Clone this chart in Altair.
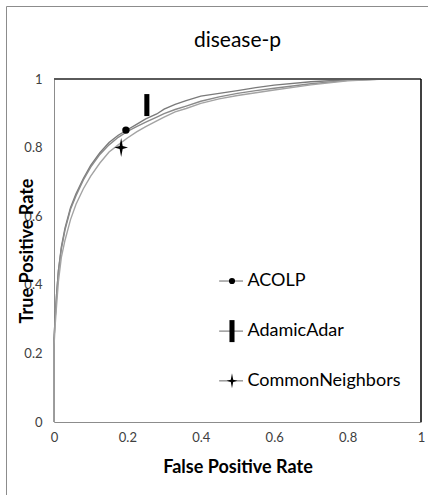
import altair as alt
import pandas as pd

# ---- data ----
methods = ["ACOLP", "AdamicAdar", "CommonNeighbors"]
line_colors = ["#7a7a7a", "#8a8a8a", "#a3a3a3"]

fpr = [0, 0, 0.003, 0.007, 0.012, 0.02, 0.03, 0.045, 0.06, 0.08, 0.1, 0.125, 0.15,
       0.175, 0.2, 0.225, 0.25, 0.28, 0.3, 0.33, 0.36, 0.4, 0.45, 0.5, 0.55, 0.6,
       0.7, 0.8, 0.9, 1.0]
tpr_acolp = [0, 0.24, 0.3, 0.37, 0.44, 0.51, 0.565, 0.625, 0.665, 0.71, 0.748, 0.785,
             0.815, 0.836, 0.852, 0.868, 0.884, 0.898, 0.912, 0.926, 0.937, 0.95, 0.958,
             0.966, 0.975, 0.982, 0.992, 0.998, 1.0, 1.0]
tpr_adamic = [0, 0.24, 0.3, 0.37, 0.44, 0.505, 0.56, 0.62, 0.66, 0.706, 0.743, 0.78,
              0.808, 0.83, 0.847, 0.861, 0.874, 0.889, 0.899, 0.911, 0.921, 0.935, 0.948,
              0.958, 0.966, 0.973, 0.986, 0.996, 1.0, 1.0]
tpr_common = [0, 0.22, 0.28, 0.34, 0.41, 0.48, 0.53, 0.59, 0.635, 0.68, 0.717, 0.755,
              0.787, 0.808, 0.828, 0.846, 0.861, 0.878, 0.889, 0.904, 0.914, 0.929, 0.942,
              0.952, 0.96, 0.968, 0.983, 0.995, 1.0, 1.0]

marker_x = [0.196, 0.253, 0.183]
marker_y = [0.851, 0.924, 0.80]

legend_y = [0.411, 0.265, 0.12]
legend_x0 = 0.45
legend_x1 = 0.515
legend_mx = 0.485
legend_tx = 0.527

axis_ticks = [0, 0.2, 0.4, 0.6, 0.8, 1]
chart_title = ["disease-p"]

# ---- tables ----
rows = []
for m, ys in zip(methods, [tpr_acolp, tpr_adamic, tpr_common]):
    for i, (x, y) in enumerate(zip(fpr, ys)):
        rows.append({"method": m, "fpr": x, "tpr": y, "ord": i})
curves = pd.DataFrame(rows)
markers = pd.DataFrame({"method": methods, "fpr": marker_x, "tpr": marker_y})
legend = pd.DataFrame({"method": methods, "y": legend_y, "x0": legend_x0,
                       "x1": legend_x1, "mx": legend_mx, "tx": legend_tx})
one = pd.DataFrame({"a": [0]})
title_df = pd.DataFrame({"t": chart_title})

FONT = "Lato"
bar_path = "M-0.23,-1L0.23,-1L0.23,1L-0.23,1Z"
star_path = "M0,-1L0.16,-0.16L0.72,0L0.16,0.16L0,1L-0.16,0.16L-0.72,0L-0.16,-0.16Z"
marker_shapes = ["circle", bar_path, star_path]
chart_sizes = [55, 484, 361]
legend_sizes = [38, 484, 225]

xs = alt.Scale(domain=[0, 1], nice=False)
ys = alt.Scale(domain=[0, 1], nice=False)

x_axis = alt.Axis(values=axis_ticks, format=".1~f", grid=False, ticks=False,
                  labelFont=FONT, labelFontSize=13, labelColor="#404040",
                  labelPadding=9, labelFlush=False, domainColor="#8c8c8c",
                  title="False Positive Rate", titleFont=FONT, titleFontSize=18,
                  titleFontWeight="bold", titleColor="#000000", titleY=50,
                  titleBaseline="alphabetic")
y_axis = alt.Axis(values=axis_ticks, format=".1~f", grid=False, ticks=False,
                  labelFont=FONT, labelFontSize=13, labelColor="#404040",
                  labelPadding=12, labelFlush=False, domainColor="#8c8c8c",
                  title="True Positive Rate", titleFont=FONT, titleFontSize=18,
                  titleFontWeight="bold", titleColor="#000000", titleX=-27,
                  titleBaseline="middle", titleAlign="center")

lines = alt.Chart(curves).mark_line(strokeWidth=1.4).encode(
    x=alt.X("fpr:Q", scale=xs, axis=x_axis),
    y=alt.Y("tpr:Q", scale=ys, axis=y_axis),
    color=alt.Color("method:N", scale=alt.Scale(domain=methods, range=line_colors), legend=None),
    order=alt.Order("ord:Q"),
)

marker_layers = []
for m, shp, s_chart, s_leg in zip(methods, marker_shapes, chart_sizes, legend_sizes):
    marker_layers.append(
        alt.Chart(markers).transform_filter(alt.datum.method == m).mark_point(
            filled=True, color="black", opacity=1, strokeWidth=0, shape=shp, size=s_chart
        ).encode(x=alt.X("fpr:Q", scale=xs), y=alt.Y("tpr:Q", scale=ys))
    )
    marker_layers.append(
        alt.Chart(legend).transform_filter(alt.datum.method == m).mark_point(
            filled=True, color="black", opacity=1, strokeWidth=0, shape=shp, size=s_leg
        ).encode(x=alt.X("mx:Q", scale=xs), y=alt.Y("y:Q", scale=ys))
    )

leg_lines = alt.Chart(legend).mark_rule(color="#808080", strokeWidth=1.2).encode(
    x=alt.X("x0:Q", scale=xs), x2="x1:Q", y=alt.Y("y:Q", scale=ys))
leg_text = alt.Chart(legend).mark_text(align="left", baseline="middle", font=FONT,
                                       fontSize=18, color="#000000").encode(
    x=alt.X("tx:Q", scale=xs), y=alt.Y("y:Q", scale=ys), text="method:N")

title_mark = alt.Chart(title_df).mark_text(align="center", baseline="middle", font=FONT,
                                           fontSize=21, color="#000000").encode(
    x=alt.value(183.5), y=alt.value(-38), text="t:N")

top_border = alt.Chart(one).mark_rule(color="#5a5a5a", strokeWidth=2).encode(
    x=alt.value(0), x2=alt.value(367), y=alt.value(0))
right_border = alt.Chart(one).mark_rule(color="#000000", strokeWidth=1.5).encode(
    x=alt.value(367), y=alt.value(0), y2=alt.value(343))
frame_left = alt.Chart(one).mark_rule(color="#8c8c8c", strokeWidth=1).encode(
    x=alt.value(-47.5), y=alt.value(-72.5), y2=alt.value(420))
frame_top = alt.Chart(one).mark_rule(color="#8c8c8c", strokeWidth=1).encode(
    x=alt.value(-47.5), x2=alt.value(380), y=alt.value(-72.5))

chart = alt.layer(
    frame_left, frame_top, title_mark, lines, top_border, right_border,
    leg_lines, leg_text, *marker_layers
).properties(
    width=367, height=343,
    autosize=alt.AutoSizeParams(type="none"),
    padding={"left": 54, "top": 79, "right": 7, "bottom": 73},
    background="white",
).configure_view(stroke=None)

chart.save("out.html", embed_options={"renderer": "svg", "actions": False})
